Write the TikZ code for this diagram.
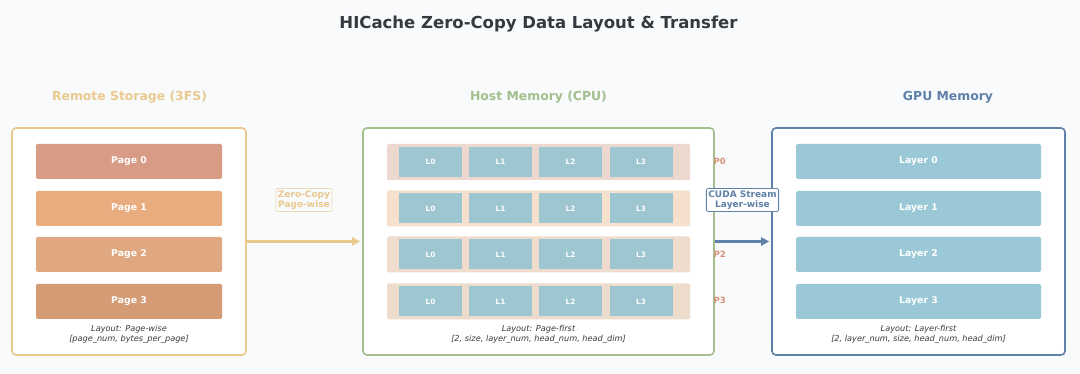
\documentclass[tikz,border=0pt]{standalone}
\usepackage{fontspec}
\setmainfont{DejaVu Sans}
\usetikzlibrary{arrows.meta}
\definecolor{bgc}{HTML}{F8FAFC}
\definecolor{titlec}{HTML}{343A40}
\definecolor{goldc}{HTML}{E9C98E}
\definecolor{greenc}{HTML}{A2BF8C}
\definecolor{bluec}{HTML}{5F80A8}
\definecolor{pg0}{HTML}{D79B86}
\definecolor{pg1}{HTML}{E9AC7E}
\definecolor{pg2}{HTML}{DFA881}
\definecolor{pg3}{HTML}{D59B75}
\definecolor{row0}{HTML}{EDD8D0}
\definecolor{row1}{HTML}{F4E0CD}
\definecolor{row2}{HTML}{F0DCCD}
\definecolor{row3}{HTML}{EDDBCC}
\definecolor{cellc}{HTML}{9EC6D1}
\definecolor{layc}{HTML}{9BC8D6}
\definecolor{plabc}{HTML}{D6937C}
\definecolor{notec}{HTML}{3A3A3A}
\tikzset{
  outerbox/.style={draw, line width=1.6pt, fill=white, rounded corners=4pt, minimum height=227pt},
  pagebox/.style={fill=#1, rounded corners=1.5pt, minimum width=186pt, minimum height=35pt, text=white, font=\bfseries\fontsize{9.3}{11}\selectfont},
  rowbox/.style={fill=#1, rounded corners=1.5pt, minimum width=303pt, minimum height=36pt},
  cellbox/.style={fill=cellc, minimum width=63pt, minimum height=30pt, text=white, font=\bfseries\fontsize{7.3}{9}\selectfont},
  laybox/.style={fill=layc, rounded corners=1.5pt, minimum width=245pt, minimum height=35pt, text=white, font=\bfseries\fontsize{9.3}{11}\selectfont},
  header/.style={font=\bfseries\fontsize{12.4}{15}\selectfont},
  note/.style={align=center, text=notec, font=\itshape\fontsize{8.2}{10}\selectfont},
  plab/.style={anchor=west, text=plabc, font=\bfseries\fontsize{8.6}{10}\selectfont},
  arrlab/.style={draw, line width=0.8pt, rounded corners=2pt, align=center, inner sep=2pt, font=\bfseries\fontsize{9}{10.5}\selectfont},
  flow/.style={line width=2.4pt, -{Triangle[length=8pt,width=8pt]}}
}
\begin{document}
\begin{tikzpicture}[x=1pt,y=-1pt]
\fill[bgc] (0,0) rectangle (1080,374);
\useasboundingbox (0,0) rectangle (1080,374);
\node[text=titlec, font=\bfseries\fontsize{16.5}{19}\selectfont] (title) at (538.5,24) {HICache Zero-Copy Data Layout \& Transfer};
\node[header, text=goldc] (h1) at (129.5,97) {Remote Storage (3FS)};
\node[header, text=greenc] (h2) at (538.5,97) {Host Memory (CPU)};
\node[header, text=bluec] (h3) at (948,97) {GPU Memory};
% boxes
\node[outerbox, draw=goldc, minimum width=234pt] (remote) at (129,241.5) {};
\node[outerbox, draw=greenc, minimum width=351pt] (host) at (538.5,241.5) {};
\node[outerbox, draw=bluec, minimum width=293pt] (gpu) at (918.5,241.5) {};
% pages
\node[pagebox=pg0] (page0) at (129,161.5) {Page 0};
\node[pagebox=pg1] (page1) at (129,208.5) {Page 1};
\node[pagebox=pg2] (page2) at (129,254.5) {Page 2};
\node[pagebox=pg3] (page3) at (129,301.5) {Page 3};
\node[note] (n1) at (129,334) {Layout: Page-wise\\{[page\_num, bytes\_per\_page]}};
% host rows
\foreach \r/\y in {0/162,1/208.5,2/254.5,3/301.5}{
  \node[rowbox=row\r] (row\r) at (538.5,\y) {};
  \foreach \c/\x in {0/430.5,1/500.5,2/570.5,3/641}{
    \node[cellbox] (cell\r\c) at (\x,\y) {L\c};
  }
}
\node[plab] (p0) at (710,161) {P0};
\node[plab] (p2) at (710,254) {P2};
\node[plab] (p3) at (710,300.5) {P3};
\node[note] (n2) at (538.5,334) {Layout: Page-first\\{[2, size, layer\_num, head\_num, head\_dim]}};
% gpu layers
\node[laybox] (lay0) at (918.5,161.5) {Layer 0};
\node[laybox] (lay1) at (918.5,208.5) {Layer 1};
\node[laybox] (lay2) at (918.5,254.5) {Layer 2};
\node[laybox] (lay3) at (918.5,301.5) {Layer 3};
\node[note] (n3) at (918.5,334) {Layout: Layer-first\\{[2, layer\_num, size, head\_num, head\_dim]}};
% arrows
\draw[flow, draw=goldc, fill=goldc, shorten >=2pt] (remote.east) -- (host.west);
\draw[flow, draw=bluec, fill=bluec, shorten >=2pt] (host.east) -- (gpu.west);
\node[arrlab, draw=goldc!70, fill=bgc, text=goldc] (lab1) at (304,200) {Zero-Copy\\Page-wise};
\node[arrlab, draw=bluec, fill=white, text=bluec] (lab2) at (742.5,200) {CUDA Stream\\Layer-wise};
\end{tikzpicture}
\end{document}
